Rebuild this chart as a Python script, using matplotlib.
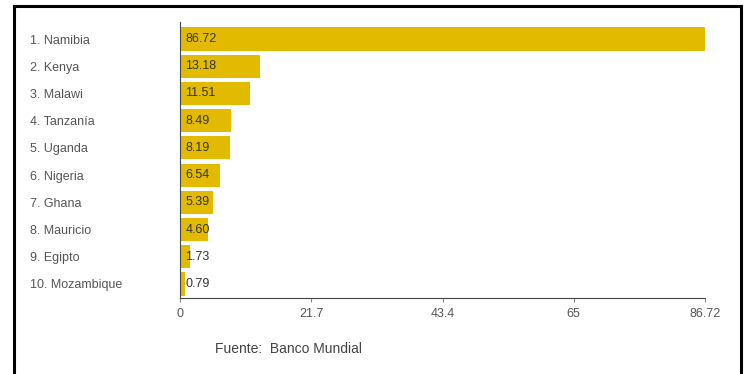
import matplotlib
matplotlib.use('Agg')
import matplotlib.pyplot as plt
from matplotlib.lines import Line2D

paises = ['1. Namibia', '2. Kenya', '3. Malawi', '4. Tanzanía', '5. Uganda',
          '6. Nigeria', '7. Ghana', '8. Mauricio', '9. Egipto', '10. Mozambique']
valores = [86.72, 13.18, 11.51, 8.49, 8.19, 6.54, 5.39, 4.60, 1.73, 0.79]
ticks = [0, 21.7, 43.4, 65, 86.72]
tick_labels = ['0', '21.7', '43.4', '65', '86.72']

plt.rcParams['font.family'] = ['Liberation Sans', 'DejaVu Sans']

fig = plt.figure(figsize=(7.47, 3.74), dpi=100)
ax = fig.add_axes([180/747, 1 - 298/374, 525/747, 276/374])

pos = list(range(len(paises)))
ax.barh(pos, valores, height=0.85, color='#e2bb00')
ax.set_ylim(9 + 14/27.2, -17/27.2)
ax.set_xlim(0, 86.72)

for p, v in zip(pos, valores):
    ax.annotate(f'{v:.2f}', (0, p), xytext=(4, 0), textcoords='offset points',
                va='center', ha='left', fontsize=9, color='#333333')

ax.set_yticks(pos)
ax.set_yticklabels(paises, ha='left', fontsize=9, color='#555555')
ax.tick_params(axis='y', length=0, pad=108)
ax.set_xticks(ticks)
ax.set_xticklabels(tick_labels, fontsize=9, color='#555555')
ax.tick_params(axis='x', length=3, color='#888888', pad=4)

for s in ['top', 'right']:
    ax.spines[s].set_visible(False)
ax.spines['left'].set_color('#444444')
ax.spines['bottom'].set_color('#444444')

fig.text(215/747, 1 - 349/374, 'Fuente:  Banco Mundial', fontsize=10,
         color='#444444', va='center')

# marco negro
fig.add_artist(Line2D([14/747, 14/747], [0, 1 - 6/374], transform=fig.transFigure, color='black', lw=2.2))
fig.add_artist(Line2D([14/747, 741/747], [1 - 6/374, 1 - 6/374], transform=fig.transFigure, color='black', lw=2.2))
fig.add_artist(Line2D([741/747, 741/747], [0, 1 - 6/374], transform=fig.transFigure, color='black', lw=2.2))

fig.savefig('out.png', dpi=100)
